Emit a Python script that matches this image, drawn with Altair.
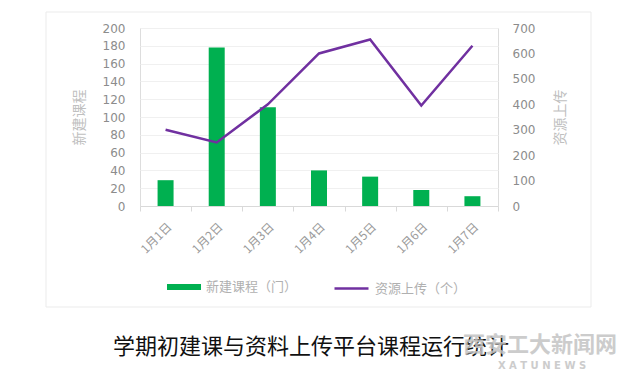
import altair as alt
import pandas as pd

dates = ['1月1日', '1月2日', '1月3日', '1月4日', '1月5日', '1月6日', '1月7日']
courses = [29, 178, 111, 40, 33, 18, 11]
uploads = [300, 250, 400, 600, 655, 395, 630]
bar_name = '新建课程（门）'
line_name = '资源上传（个）'
title_text = '学期初建课与资料上传平台课程运行统计'

df = pd.DataFrame({
    'date': dates,
    'courses': courses,
    'uploads': uploads,
    's1': [bar_name] * len(dates),
    's2': [line_name] * len(dates),
})

GREEN = '#00b050'
PURPLE = '#7030a0'
CJK = 'Noto Sans CJK SC'

x_enc = alt.X('date:N', sort=dates, title=None,
              scale=alt.Scale(paddingInner=0, paddingOuter=0),
              axis=alt.Axis(labelAngle=-45, labelAlign='right', labelBaseline='top',
                            labelFont=CJK, labelFontSize=12, labelColor='#9a9a9a',
                            labelPadding=10, domainColor='#d9d9d9', tickColor='#d9d9d9',
                            tickSize=5, tickBand='extent', grid=False))

base = alt.Chart(df)

bars = base.mark_bar(size=16).encode(
    x=x_enc,
    y=alt.Y('courses:Q', scale=alt.Scale(domain=[0, 200]),
            axis=alt.Axis(values=list(range(0, 201, 20)), title='新建课程',
                          titleFont=CJK, titleFontSize=14, titleColor='#c0c0c0',
                          titleFontWeight='normal', titlePadding=16,
                          labelFont='DejaVu Sans', labelFontSize=12, labelColor='#8c8c8c',
                          labelPadding=15, ticks=False, tickSize=0, domain=False,
                          grid=True, gridColor='#f0f0f0')),
    color=alt.Color('s1:N', scale=alt.Scale(domain=[bar_name], range=[GREEN]),
                    legend=alt.Legend(title=None, orient='none', legendX=27, legendY=242,
                                      symbolType='M-1,-0.18L1,-0.18L1,0.18L-1,0.18Z',
                                      symbolSize=1156, symbolStrokeWidth=0, padding=0,
                                      labelFont=CJK, labelFontSize=13, labelColor='#b0b0b0',
                                      labelOffset=5)),
)

line = base.mark_line(strokeWidth=2.5).encode(
    x=alt.X('date:N', sort=dates),
    y=alt.Y('uploads:Q', scale=alt.Scale(domain=[0, 700]),
            axis=alt.Axis(orient='right', values=list(range(0, 701, 100)), title='资源上传',
                          titleAngle=270, titleFont=CJK, titleFontSize=14, titleColor='#c0c0c0',
                          titleFontWeight='normal', titlePadding=33,
                          labelFont='DejaVu Sans', labelFontSize=12, labelColor='#8c8c8c',
                          labelPadding=14, ticks=False, tickSize=0, domain=False, grid=False)),
    stroke=alt.Stroke('s2:N', scale=alt.Scale(domain=[line_name], range=[PURPLE]),
                      legend=alt.Legend(title=None, orient='none', legendX=193, legendY=242,
                                        symbolType='stroke', symbolSize=1156,
                                        symbolStrokeWidth=2.5, padding=0,
                                        labelFont=CJK, labelFontSize=13, labelColor='#b0b0b0',
                                        labelOffset=5)),
)

one = alt.Data(values=[{'a': 1}])

frame = alt.Chart(one).mark_rect(fill='transparent', stroke='#ebebeb', strokeWidth=1).encode(
    x=alt.value(-94), x2=alt.value(451), y=alt.value(-16), y2=alt.value(279))

title = alt.Chart(one).mark_text(text=title_text, font=CJK, fontSize=22, color='#111111',
                                  align='center', baseline='middle').encode(
    x=alt.value(171), y=alt.value(319))

wm1 = alt.Chart(one).mark_text(text='西安工大新闻网', font=CJK, fontSize=22, fontWeight='bold',
                                color='#c4c4c4', opacity=0.85, align='center',
                                baseline='middle').encode(x=alt.value(400), y=alt.value(317))
wm2 = alt.Chart(one).mark_text(text='X A T U   N E W S', font='DejaVu Sans', fontSize=10,
                                fontWeight='bold', color='#c4c4c4', opacity=0.85,
                                align='center', baseline='middle').encode(
    x=alt.value(402), y=alt.value(338))

chart = alt.layer(frame, bars, line, title, wm1, wm2).resolve_scale(
    y='independent', color='independent', stroke='independent'
).properties(
    width=358, height=178,
    autosize=alt.AutoSizeParams(type='none'),
    padding={'left': 132, 'top': 20, 'right': 124, 'bottom': 166},
).configure_view(stroke=None).configure(background='white')

chart.save('out.html', embed_options={'renderer': 'svg', 'actions': False})
